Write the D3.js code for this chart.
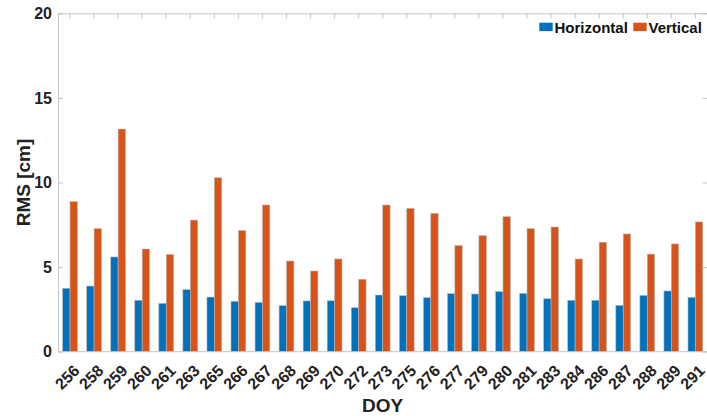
<!DOCTYPE html>
<html>
<head>
<meta charset="utf-8">
<script src="https://cdn.jsdelivr.net/npm/d3@7"></script>
<style>
  body { margin: 0; background: #fff; }
  svg { display: block; font-family: "Liberation Sans", Arial, sans-serif; font-weight: bold; }
</style>
</head>
<body>
<svg id="chart"></svg>
<script>
let doy = ["256", "258", "259", "260", "261", "263", "265", "266", "267", "268", "269", "270", "272", "273",
  "275", "276", "277", "279", "280", "281", "283", "284", "286", "287", "288", "289", "291"];
let horizontal = [3.75, 3.88, 5.6, 3.04, 2.86, 3.67, 3.23, 2.98, 2.92, 2.72, 3.0, 3.01, 2.6, 3.35,
  3.31, 3.19, 3.43, 3.41, 3.55, 3.45, 3.13, 3.04, 3.04, 2.74, 3.33, 3.59, 3.21];
let vertical = [8.87, 7.27, 13.16, 6.07, 5.75, 7.78, 10.28, 7.17, 8.67, 5.36, 4.77, 5.48, 4.28, 8.67,
  8.47, 8.18, 6.27, 6.86, 7.98, 7.27, 7.37, 5.48, 6.47, 6.96, 5.77, 6.37, 7.67];
let seriesNames = ["Horizontal", "Vertical"];
let yTicks = [0, 5, 10, 15, 20];

let w = 707;
let h = 416;
let plotLeft = 58, plotRight = 707.4, plotTop = 13.3, plotBottom = 351.7;
let colors = ["#0072BD", "#D95319"];
let axisColor = "#c4c4c4";
let textColor = "#222";

let svg = d3.select("#chart").attr("width", w).attr("height", h);

let x0 = d3.scaleBand().domain(doy).range([plotLeft, plotRight]).paddingInner(0.385).paddingOuter(0.1925);
let x1 = d3.scaleBand().domain(seriesNames).range([0, x0.bandwidth()]);
let y = d3.scaleLinear().domain([0, 20]).range([plotBottom, plotTop]);

function styleAxis(g) {
  g.selectAll("path, line").attr("stroke", axisColor);
  g.selectAll("text").attr("fill", textColor);
}

// bottom ticks first (under the bars)
let xAxis = svg.append("g")
  .attr("transform", "translate(0," + plotBottom + ")")
  .call(d3.axisBottom(x0).tickSizeInner(-5).tickSizeOuter(0).tickPadding(0))
  .call(styleAxis);
xAxis.select(".domain").remove();
xAxis.selectAll("text")
  .attr("font-size", 16)
  .attr("text-anchor", "end")
  .attr("y", 0)
  .attr("dy", 0)
  .attr("transform", "translate(10.5,20) rotate(-45)");

// bars
let rows = doy.map((d, i) => ({ doy: d, values: [horizontal[i], vertical[i]] }));
let groups = svg.selectAll("g.group")
  .data(rows)
  .enter()
  .append("g")
  .attr("class", "group")
  .attr("transform", (d) => "translate(" + x0(d.doy) + ",0)");

groups.selectAll("rect")
  .data((d) => d.values.map((v, i) => ({ key: seriesNames[i], value: v, i: i })))
  .enter()
  .append("rect")
  .attr("x", (d) => x1(d.key))
  .attr("y", (d) => y(d.value))
  .attr("width", x1.bandwidth())
  .attr("height", (d) => plotBottom - y(d.value))
  .attr("fill", (d) => colors[d.i])
  .attr("stroke", "#b8b8b8")
  .attr("stroke-width", 0.6);

// box lines
svg.append("line").attr("x1", plotLeft).attr("x2", plotRight)
  .attr("y1", plotBottom).attr("y2", plotBottom).attr("stroke", axisColor);

let yAxis = svg.append("g")
  .attr("transform", "translate(" + plotLeft + ",0)")
  .call(d3.axisLeft(y).tickValues(yTicks).tickSizeInner(-5).tickSizeOuter(0).tickPadding(6))
  .call(styleAxis);
yAxis.selectAll("text").attr("font-size", 16);

svg.append("g")
  .attr("transform", "translate(" + plotRight + ",0)")
  .call(d3.axisRight(y).tickValues(yTicks).tickSizeInner(-5).tickSizeOuter(0).tickFormat(""))
  .call(styleAxis);

svg.append("g")
  .attr("transform", "translate(0," + plotTop + ")")
  .call(d3.axisTop(x0).tickSizeInner(-5).tickSizeOuter(0).tickFormat(""))
  .call(styleAxis);

// axis titles
svg.append("text")
  .attr("x", (plotLeft + plotRight) / 2)
  .attr("y", 412)
  .attr("text-anchor", "middle")
  .attr("font-size", 19)
  .attr("fill", textColor)
  .text("DOY");

svg.append("text")
  .attr("transform", "translate(30," + (plotTop + plotBottom) / 2 + ") rotate(-90)")
  .attr("text-anchor", "middle")
  .attr("font-size", 19)
  .attr("fill", textColor)
  .text("RMS [cm]");

// legend
let legendX = [539.3, 633.3];
let legend = svg.selectAll("g.legend")
  .data(seriesNames)
  .enter()
  .append("g")
  .attr("class", "legend")
  .attr("transform", (d, i) => "translate(" + legendX[i] + ",22.7)");
legend.append("rect")
  .attr("width", 13.4)
  .attr("height", 8.4)
  .attr("fill", (d, i) => colors[i]);
legend.append("text")
  .attr("x", 15.2)
  .attr("y", 10.4)
  .attr("font-size", 15)
  .attr("fill", "#111")
  .text((d) => d);
</script>
</body>
</html>
